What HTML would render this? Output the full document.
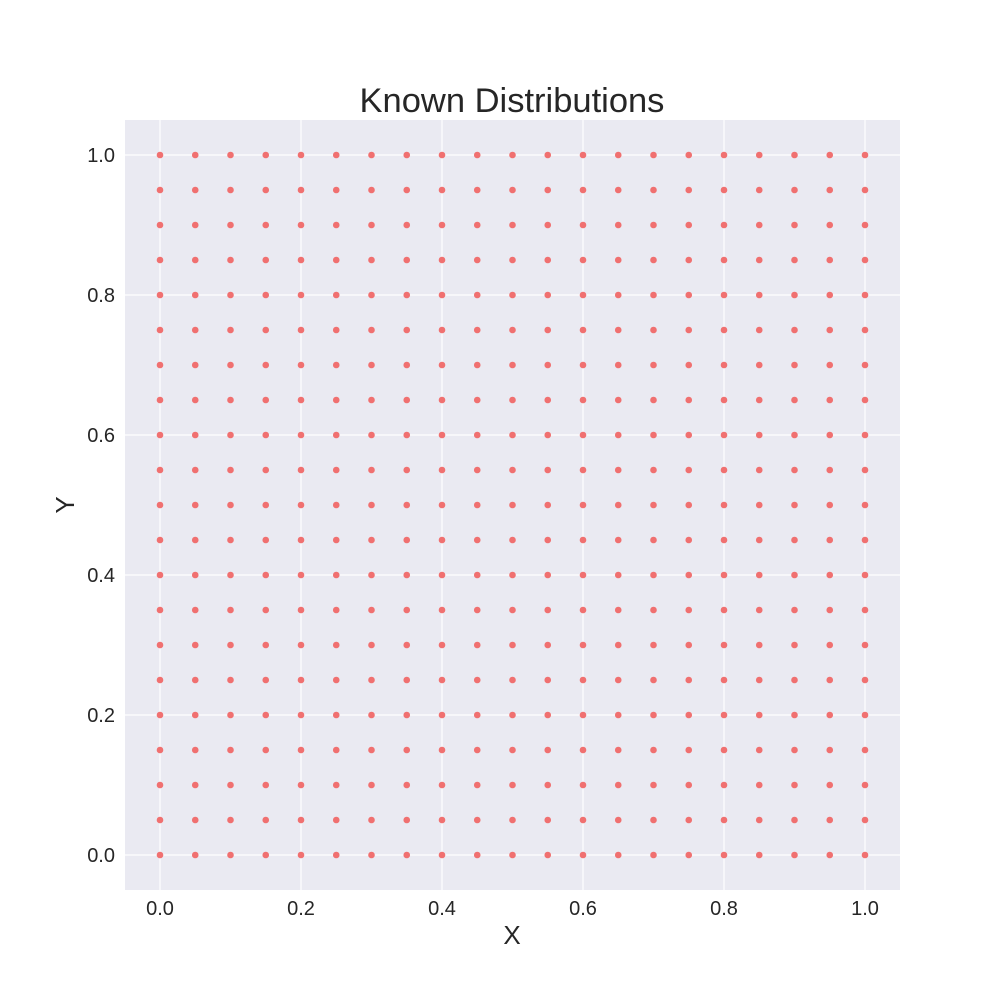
<!DOCTYPE html>
<html><head><meta charset="utf-8"><style>
body{margin:0;background:#fff;}
svg{display:block;font-family:"Liberation Sans",sans-serif;}
</style></head><body>
<svg id="chart" width="1000" height="1000">
<rect x="125" y="120" width="775" height="770" fill="#eaeaf2"/>
<g id="grid"></g><g id="ticks"></g><g id="points"></g>
<text x="512" y="112" text-anchor="middle" font-size="34.5" fill="#262626">Known Distributions</text>
<text x="512" y="944" text-anchor="middle" font-size="26" fill="#262626">X</text>
<text x="0" y="0" transform="translate(74,505) rotate(-90)" text-anchor="middle" font-size="26" fill="#262626">Y</text>
</svg>
<script>
const xValues = [0,0.05,0.1,0.15,0.2,0.25,0.3,0.35,0.4,0.45,0.5,0.55,0.6,0.65,0.7,0.75,0.8,0.85,0.9,0.95,1.0];
const yValues = [0,0.05,0.1,0.15,0.2,0.25,0.3,0.35,0.4,0.45,0.5,0.55,0.6,0.65,0.7,0.75,0.8,0.85,0.9,0.95,1.0];
const xTicks = [0,0.2,0.4,0.6,0.8,1.0];
const yTicks = [0,0.2,0.4,0.6,0.8,1.0];
const NS="http://www.w3.org/2000/svg";
function sx(v){return 160+v*705;}
function sy(v){return 855-v*700;}
const grid=document.getElementById('grid'),ticks=document.getElementById('ticks'),pts=document.getElementById('points');
xTicks.forEach(t=>{
  const l=document.createElementNS(NS,'line');
  l.setAttribute('x1',sx(t));l.setAttribute('x2',sx(t));l.setAttribute('y1',120);l.setAttribute('y2',890);
  l.setAttribute('stroke','#fff');l.setAttribute('stroke-width','1.2');
  
  
  grid.appendChild(l);
  const tx=document.createElementNS(NS,'text');
  tx.setAttribute('x',sx(t));tx.setAttribute('y',915);tx.setAttribute('text-anchor','middle');
  tx.setAttribute('font-size','20');tx.setAttribute('fill','#262626');
  tx.textContent=t.toFixed(1);
  
  
  ticks.appendChild(tx);
});
yTicks.forEach(t=>{
  const l=document.createElementNS(NS,'line');
  l.setAttribute('y1',sy(t));l.setAttribute('y2',sy(t));l.setAttribute('x1',125);l.setAttribute('x2',900);
  l.setAttribute('stroke','#fff');l.setAttribute('stroke-width','1.2');
  
  
  grid.appendChild(l);
  const tx=document.createElementNS(NS,'text');
  tx.setAttribute('x',115);tx.setAttribute('y',sy(t)+7);tx.setAttribute('text-anchor','end');
  tx.setAttribute('font-size','20');tx.setAttribute('fill','#262626');
  tx.textContent=t.toFixed(1);
  
  
  ticks.appendChild(tx);
});
xValues.forEach(x=>{yValues.forEach(y=>{
  const c=document.createElementNS(NS,'circle');
  c.setAttribute('cx',sx(x));c.setAttribute('cy',sy(y));c.setAttribute('r',3.3);
  c.setAttribute('fill','#f07070');
  
  
  pts.appendChild(c);
});});
</script>
</body></html>
